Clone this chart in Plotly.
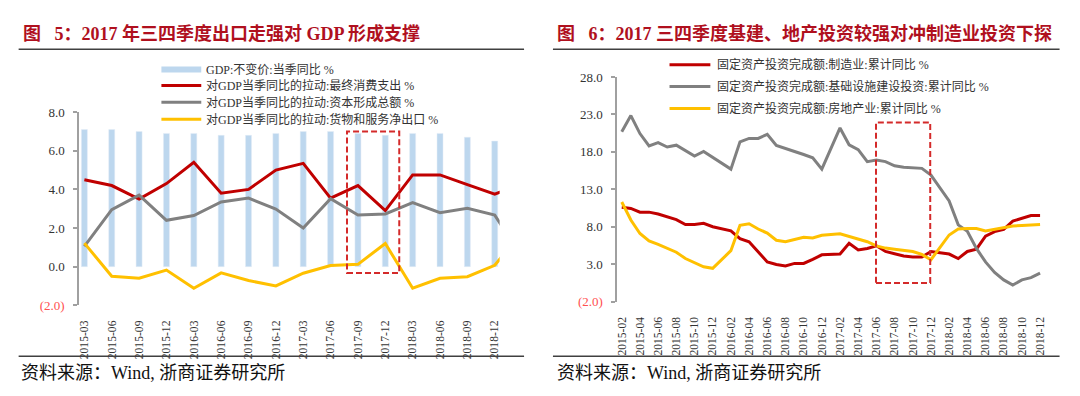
import plotly.graph_objects as go

# ---------------- data: left panel (quarterly) ----------------
quarters = ["2015-03", "2015-06", "2015-09", "2015-12", "2016-03", "2016-06", "2016-09", "2016-12",
            "2017-03", "2017-06", "2017-09", "2017-12", "2018-03", "2018-06", "2018-09", "2018-12"]
quarters_line = quarters + ["2019-03"]          # last line point lies just beyond the visible range
gdp_yoy = [7.1, 7.1, 7.0, 6.9, 6.9, 6.8, 6.8, 6.9, 7.0, 7.0, 6.9, 6.8, 6.9, 6.9, 6.7, 6.5]
contrib_consumption = [4.5, 4.2, 3.5, 4.3, 5.4, 3.8, 4.0, 5.0, 5.35, 3.55, 4.2, 2.9, 4.75, 4.75, 4.25, 3.75, 4.3]
contrib_capital = [1.05, 2.95, 3.7, 2.4, 2.65, 3.35, 3.55, 2.98, 2.0, 3.52, 2.67, 2.73, 3.32, 2.79, 3.02, 2.67, 0.5]
contrib_net_exports = [1.22, -0.5, -0.6, -0.18, -1.12, -0.32, -0.72, -1.0, -0.34, 0.06, 0.12, 1.2,
                       -1.12, -0.6, -0.52, 0.07, 1.8]

left_names = ["GDP:不变价:当季同比 %", "对GDP当季同比的拉动:最终消费支出 %",
              "对GDP当季同比的拉动:资本形成总额 %", "对GDP当季同比的拉动:货物和服务净出口 %"]

# ---------------- data: right panel (monthly, Jan has no cumulative value) ----------------
months = ["2015-02", "2015-03", "2015-04", "2015-05", "2015-06", "2015-07", "2015-08", "2015-09", "2015-10",
          "2015-11", "2015-12", "2016-01", "2016-02", "2016-03", "2016-04", "2016-05", "2016-06", "2016-07",
          "2016-08", "2016-09", "2016-10", "2016-11", "2016-12", "2017-01", "2017-02", "2017-03", "2017-04",
          "2017-05", "2017-06", "2017-07", "2017-08", "2017-09", "2017-10", "2017-11", "2017-12", "2018-01",
          "2018-02", "2018-03", "2018-04", "2018-05", "2018-06", "2018-07", "2018-08", "2018-09", "2018-10",
          "2018-11", "2018-12"]
month_tick_labels = ["2015-02", "2015-04", "2015-06", "2015-08", "2015-10", "2015-12",
                     "2016-02", "2016-04", "2016-06", "2016-08", "2016-10", "2016-12",
                     "2017-02", "2017-04", "2017-06", "2017-08", "2017-10", "2017-12",
                     "2018-02", "2018-04", "2018-06", "2018-08", "2018-10", "2018-12"]
fai_manufacturing = [10.6, 10.45, 9.95, 9.95, 9.7, 9.3, 8.95, 8.3, 8.3, 8.45, 8.0, None,
                     7.45, 6.4, 6.0, 4.6, 3.3, 2.95, 2.75, 3.1, 3.1, 3.65, 4.25, None,
                     4.35, 5.8, 4.9, 5.1, 5.45, 4.7, 4.4, 4.1, 3.95, 3.95, 4.7, None,
                     4.35, 3.75, 4.7, 5.0, 6.75, 7.35, 7.65, 8.75, 9.15, 9.5, 9.5]
fai_infrastructure = [20.7, 22.85, 20.45, 18.8, 19.25, 18.65, 18.9, 18.15, 17.45, 18.05, 17.3, None,
                      15.7, 19.35, 19.8, 19.8, 20.35, 18.85, 18.4, 18.05, 17.65, 17.2, 15.7, None,
                      21.2, 18.95, 18.3, 16.7, 16.9, 16.7, 16.15, 15.95, 15.85, 15.8, 14.9, None,
                      11.45, 8.25, 7.4, 5.1, 3.3, 1.9, 0.9, 0.2, 0.9, 1.2, 1.8]
fai_real_estate = [11.3, 8.9, 7.1, 6.1, 5.65, 5.15, 4.6, 3.75, 3.2, 2.65, 2.45, None,
                   4.8, 8.2, 8.4, 7.7, 7.15, 6.2, 6.0, 6.3, 6.6, 6.5, 6.85, None,
                   7.05, 6.7, 6.3, 6.0, 5.45, 5.15, 5.0, 4.9, 4.7, 4.3, 3.6, None,
                   6.9, 7.7, 7.75, 7.75, 7.45, 7.7, 7.95, 8.1, 8.15, 8.2, 8.3]

right_names = ["固定资产投资完成额:制造业:累计同比 %", "固定资产投资完成额:基础设施建设投资:累计同比 %",
               "固定资产投资完成额:房地产业:累计同比 %"]

left_y_ticks = [-2, 0, 2, 4, 6, 8]
left_y_labels = ["(2.0)", "0.0", "2.0", "4.0", "6.0", "8.0"]
right_y_ticks = [-2, 3, 8, 13, 18, 23, 28]
right_y_labels = ["(2.0)", "3.0", "8.0", "13.0", "18.0", "23.0", "28.0"]

title_left = "图\u00a0\u20025：2017 年三四季度出口走强对 GDP 形成支撑"
title_right = "图\u00a0\u20026：2017 三四季度基建、地产投资较强对冲制造业投资下探"
source_text = "资料来源：Wind,\u00a0浙商证券研究所"

# highlight boxes (data units)
left_box = dict(x0=9.6, x1=11.51, y0=-0.33, y1=7.0)
right_box = dict(x0=27.96, x1=33.92, y0=0.5, y1=21.93)

# ---------------- styles / geometry ----------------
W, H = 1080, 396
RED, GRAY, YELLOW, BLUE = "#C00000", "#808080", "#FFC000", "#BDD7EE"
AXIS = "#A0A0A0"
TXT = "#333333"
FONT = "Liberation Serif, Noto Sans CJK SC, serif"
NEG = "#FF5050"


def fx(p):
    return p / W


def fy(p):
    return 1 - p / H


L_dx = [fx(77.3), fx(499.5)]
L_dy = [fy(310.0), fy(109.3)]
R_dx = [fx(617.5), fx(1046.5)]
R_dy = [fy(306.2), fy(72.8)]
L_xr = [-0.196, 15.18]
R_xr = [-0.5, 46.5]
L_yr = [-2, 8]
R_yr = [-2, 28]

fig = go.Figure()

fig.add_trace(go.Bar(x=quarters, y=gdp_yoy, name=left_names[0], marker_color=BLUE,
                     width=0.22, xaxis="x", yaxis="y", showlegend=False))
for vals, col, nm in [(contrib_consumption, RED, left_names[1]),
                      (contrib_capital, GRAY, left_names[2]),
                      (contrib_net_exports, YELLOW, left_names[3])]:
    fig.add_trace(go.Scatter(x=quarters_line, y=vals, mode="lines", name=nm,
                             line=dict(color=col, width=3), xaxis="x", yaxis="y", showlegend=False))

for vals, col, nm in [(fai_manufacturing, RED, right_names[0]),
                      (fai_infrastructure, GRAY, right_names[1]),
                      (fai_real_estate, YELLOW, right_names[2])]:
    fig.add_trace(go.Scatter(x=months, y=vals, mode="lines", name=nm, connectgaps=True,
                             line=dict(color=col, width=3), xaxis="x2", yaxis="y2", showlegend=False))


def ytick_text(labels):
    return [f"<span style='color:{NEG}'>{t}</span>" if t.startswith("(") else t for t in labels]


common_y = dict(showline=True, linecolor=AXIS, linewidth=1.5, ticks="outside", ticklen=4,
                tickcolor=AXIS, tickwidth=1.5, showgrid=False, zeroline=False,
                tickfont=dict(family=FONT, size=13, color=TXT), tickmode="array", ticklabelstandoff=6)
common_x = dict(type="category", showline=False, ticks="", showgrid=False, zeroline=False,
                tickangle=-90, tickfont=dict(family=FONT, size=11.6, color=TXT), tickmode="array",
                ticklabelstandoff=12)

zero_pos_L = L_dy[0] + (0 - L_yr[0]) / (L_yr[1] - L_yr[0]) * (L_dy[1] - L_dy[0])
zero_pos_R = R_dy[0] + (0 - R_yr[0]) / (R_yr[1] - R_yr[0]) * (R_dy[1] - R_dy[0])

fig.update_layout(
    width=W, height=H, margin=dict(l=0, r=0, t=0, b=0),
    paper_bgcolor="white", plot_bgcolor="rgba(0,0,0,0)", showlegend=False,
    xaxis=dict(common_x, domain=L_dx, anchor="y", range=L_xr, categoryorder="array",
               categoryarray=quarters_line, tickvals=quarters, ticktext=quarters),
    yaxis=dict(common_y, domain=L_dy, anchor="x", range=L_yr, tickvals=left_y_ticks,
               ticktext=ytick_text(left_y_labels)),
    xaxis2=dict(common_x, domain=R_dx, anchor="y2", range=R_xr, categoryorder="array",
                categoryarray=months, tickvals=month_tick_labels, ticktext=month_tick_labels),
    yaxis2=dict(common_y, domain=R_dy, anchor="x2", range=R_yr, tickvals=right_y_ticks,
                ticktext=ytick_text(right_y_labels)),
    xaxis3=dict(overlaying="x", domain=L_dx, anchor="free", position=zero_pos_L, type="linear",
                range=L_xr, showline=True, linecolor=AXIS, linewidth=1.5, ticks="outside", ticklen=4,
                tickcolor=AXIS, tickwidth=1.5, tickmode="array",
                tickvals=[i + 0.81 for i in range(len(quarters) - 1)],
                showticklabels=False, showgrid=False, zeroline=False),
    xaxis4=dict(overlaying="x2", domain=R_dx, anchor="free", position=zero_pos_R, type="linear",
                range=R_xr, showline=True, linecolor=AXIS, linewidth=1.5, ticks="outside", ticklen=4,
                tickcolor=AXIS, tickwidth=1.5, tickmode="array",
                tickvals=[i + 1.5 for i in range(0, len(months) - 1, 2)],
                showticklabels=False, showgrid=False, zeroline=False),
)

shapes = []
# highlight boxes
shapes.append(dict(type="rect", xref="x", yref="y", **left_box,
                   line=dict(color="#D42A2A", width=2, dash="6px,3px"), fillcolor="rgba(0,0,0,0)"))
shapes.append(dict(type="rect", xref="x2", yref="y2", **right_box,
                   line=dict(color="#D42A2A", width=2, dash="6px,3px"), fillcolor="rgba(0,0,0,0)"))
# rules under titles and above sources
for x0, x1 in [(16.7, 524.0), (553.0, 1061.5)]:
    for yy in (44.0, 363.0):
        shapes.append(dict(type="line", xref="paper", yref="paper", x0=fx(x0), x1=fx(x1),
                           y0=fy(yy), y1=fy(yy), line=dict(color="#404040", width=1.5)))

annotations = []
for x0, txt in [(19.0, title_left), (555.0, title_right)]:
    annotations.append(dict(xref="paper", yref="paper", x=fx(x0), y=fy(28.0), xanchor="left",
                            yanchor="middle", showarrow=False, text=f"<b>{txt}</b>",
                            font=dict(family=FONT, size=18, color="#B0101E")))
for x0 in (17.0, 555.0):
    annotations.append(dict(xref="paper", yref="paper", x=fx(x0), y=fy(380.0), xanchor="left",
                            yanchor="middle", showarrow=False, text=source_text,
                            font=dict(family=FONT, size=18, color="#111111")))

# legends (keys + labels)
left_leg = [(BLUE, 6, left_names[0], 65.0), (RED, 3, left_names[1], 81.5),
            (GRAY, 3, left_names[2], 99.0), (YELLOW, 3, left_names[3], 116.7)]
for col, w, nm, yy in left_leg:
    shapes.append(dict(type="line", xref="paper", yref="paper", x0=fx(160), x1=fx(200),
                       y0=fy(yy), y1=fy(yy), line=dict(color=col, width=w)))
    annotations.append(dict(xref="paper", yref="paper", x=fx(203), y=fy(yy), xanchor="left",
                            yanchor="middle", showarrow=False, text=nm,
                            font=dict(family=FONT, size=12, color=TXT)))
right_leg = [(RED, right_names[0], 60.0), (GRAY, right_names[1], 82.5), (YELLOW, right_names[2], 105.5)]
for col, nm, yy in right_leg:
    shapes.append(dict(type="line", xref="paper", yref="paper", x0=fx(670), x1=fx(711),
                       y0=fy(yy), y1=fy(yy), line=dict(color=col, width=3)))
    annotations.append(dict(xref="paper", yref="paper", x=fx(715.5), y=fy(yy), xanchor="left",
                            yanchor="middle", showarrow=False, text=nm,
                            font=dict(family=FONT, size=12, color=TXT)))

fig.update_layout(shapes=shapes, annotations=annotations)

fig.write_html("out.html", config={"displayModeBar": False},
               post_script="document.body.style.margin='0';document.body.style.overflow='hidden';")
